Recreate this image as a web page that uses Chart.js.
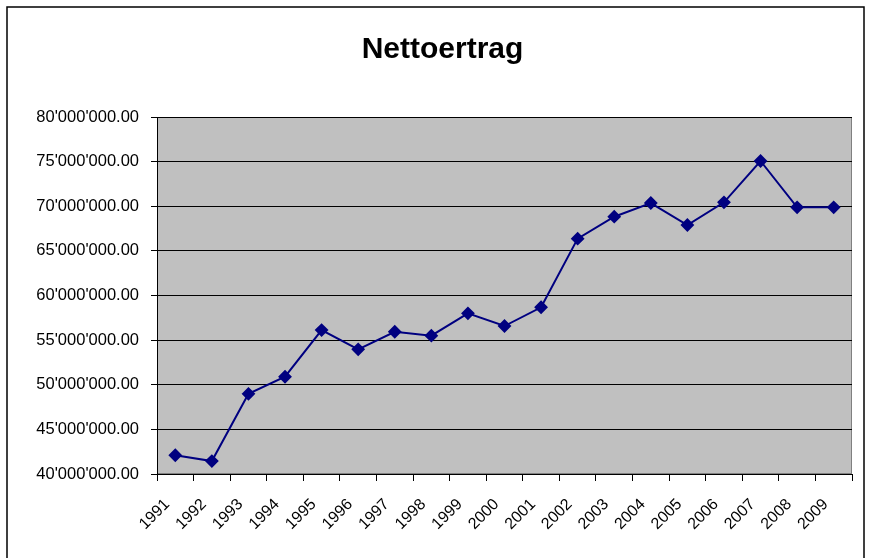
<!DOCTYPE html>
<html>
<head>
<meta charset="utf-8">
<script src="https://cdn.jsdelivr.net/npm/chart.js@4/dist/chart.umd.min.js"></script>
<style>
  html, body { margin: 0; padding: 0; background: #fff; }
  #wrap { width: 869px; height: 558px; position: relative; }
</style>
</head>
<body>
<div id="wrap"><canvas id="chart" width="869" height="558"></canvas></div>
<script>
// Nettoertrag 1991-2009
const years = ['1991', '1992', '1993', '1994', '1995', '1996', '1997', '1998', '1999', '2000',
               '2001', '2002', '2003', '2004', '2005', '2006', '2007', '2008', '2009'];
const nettoertrag = [42100000, 41450000, 48980000, 50900000, 56130000, 53970000, 55940000, 55500000, 58000000, 56580000,
                     58680000, 66370000, 68830000, 70360000, 67900000, 70440000, 75070000, 69880000, 69880000];
const yMin = 40000000, yMax = 80000000, yStep = 5000000;

function formatSwiss(v) {
    const parts = Math.round(v).toString().replace(/\B(?=(\d{3})+(?!\d))/g, "'");
    return parts + '.00';
}

// grey plot area + frame
const plotBg = {
    id: 'plotBg',
    beforeDraw(chart) {
        const { ctx, chartArea: a } = chart;
        ctx.save();
        ctx.fillStyle = '#C0C0C0';
        ctx.fillRect(a.left, a.top, a.right - a.left, a.bottom - a.top);
        ctx.strokeStyle = '#808080';
        ctx.lineWidth = 1;
        ctx.strokeRect(a.left + 0.5, a.top + 0.5, a.right - a.left - 1, a.bottom - a.top - 1);
        // outer border of the picture
        ctx.strokeStyle = '#000';
        ctx.lineWidth = 1.5;
        ctx.strokeRect(7, 7, 857, 600);
        ctx.restore();
    }
};

new Chart(document.getElementById('chart'), {
    type: 'line',
    data: {
        labels: years,
        datasets: [{
            label: 'Nettoertrag',
            data: nettoertrag,
            borderColor: '#000080',
            backgroundColor: '#000080',
            borderWidth: 2,
            pointStyle: 'rectRot',
            pointRadius: 5.5,
            pointHoverRadius: 5.5,
            tension: 0
        }]
    },
    options: {
        responsive: false,
        animation: false,
        layout: { padding: { left: 33, right: 17, top: 0, bottom: 0 } },
        plugins: {
            legend: { display: false },
            tooltip: { enabled: false },
            title: {
                display: true, text: 'Nettoertrag', color: '#000',
                font: { family: '"Liberation Sans", Arial, sans-serif', size: 30, weight: 'bold' },
                padding: { top: 32, bottom: 49 }
            }
        },
        scales: {
            x: {
                offset: true,
                grid: { display: true, drawOnChartArea: false, drawTicks: true, tickLength: 7, color: '#000', offset: true },
                border: { display: true, color: '#000', width: 1 },
                ticks: {
                    color: '#000', minRotation: 45, maxRotation: 45, autoSkip: false, padding: 14, labelOffset: -8,
                    font: { family: '"Liberation Sans", Arial, sans-serif', size: 16 }
                },
                afterFit(scale) { scale.height = 84; }
            },
            y: {
                min: yMin, max: yMax,
                grid: { color: '#000', lineWidth: 1, tickLength: 6, drawTicks: true },
                border: { display: true, color: '#000', width: 1 },
                ticks: {
                    stepSize: yStep, color: '#000', padding: 12,
                    font: { family: '"Liberation Sans", Arial, sans-serif', size: 16.5 },
                    callback: v => formatSwiss(v)
                },
                afterFit(scale) { scale.width = 124; }
            }
        }
    },
    plugins: [plotBg]
});
</script>
</body>
</html>
